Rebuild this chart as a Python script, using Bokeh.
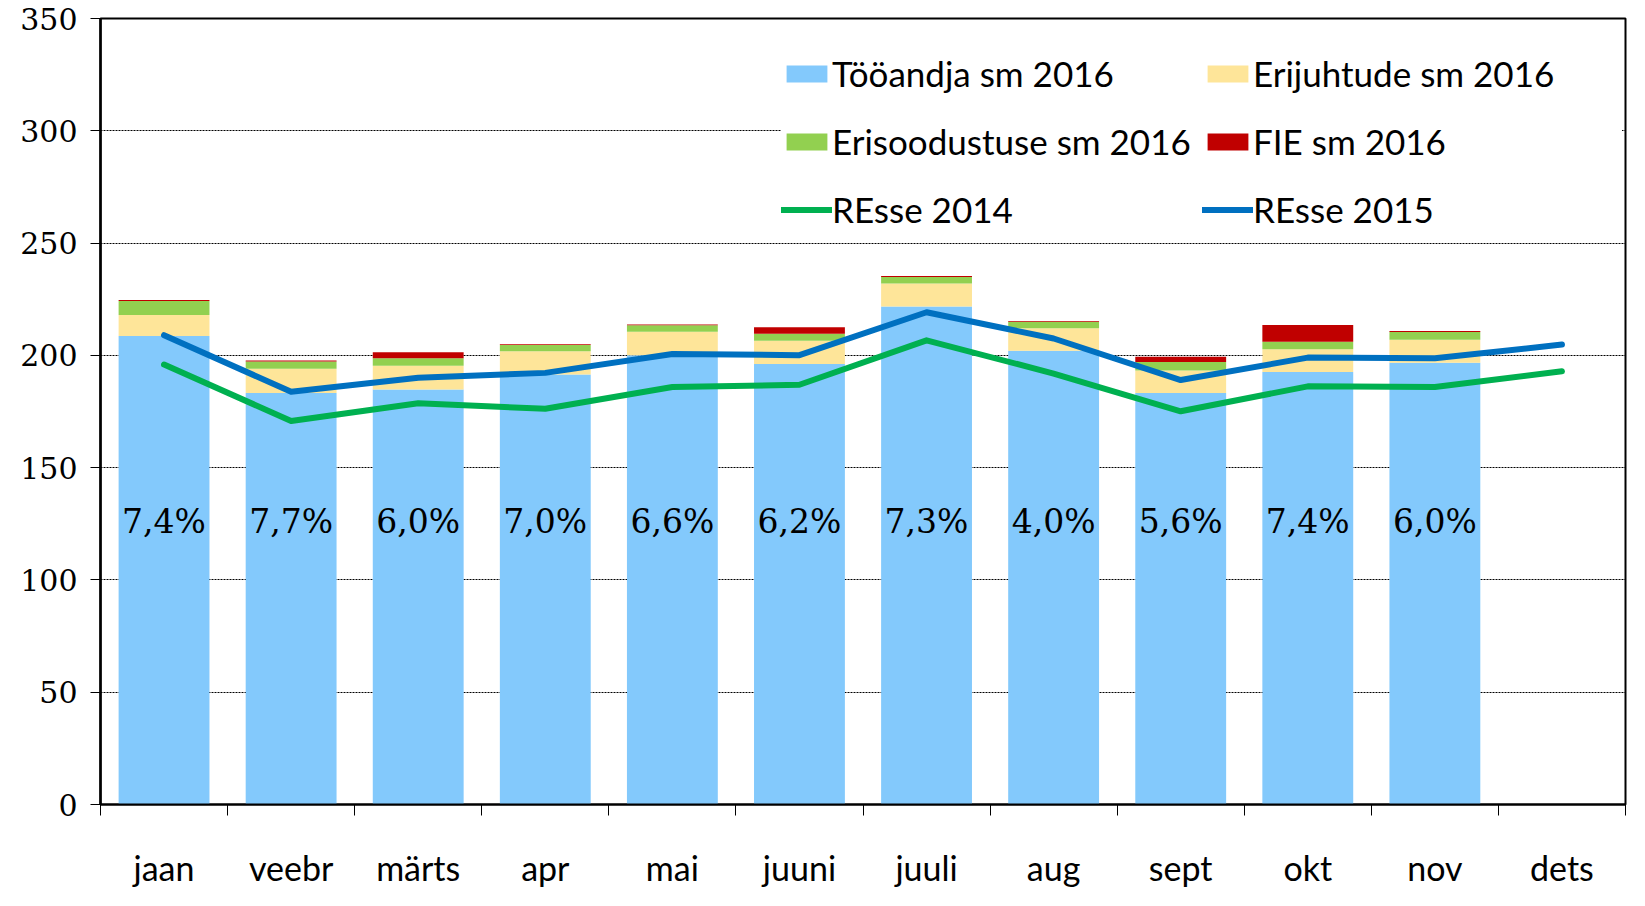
from bokeh.plotting import figure
from bokeh.models import (ColumnDataSource, Range1d, FixedTicker, CustomJSTickFormatter,
                          Legend, LegendItem)
from bokeh.core.properties import value
from bokeh.embed import file_html
from bokeh.resources import INLINE

months = ["jaan", "veebr", "märts", "apr", "mai", "juuni", "juuli", "aug",
          "sept", "okt", "nov", "dets"]
tooandja = [208.6, 183.2, 184.8, 191.5, 200.1, 196.2, 221.8, 202.1, 183.2, 192.6, 196.7, 0]
erijuhtude = [9.4, 10.8, 10.6, 10.3, 10.4, 10.3, 10.2, 10.0, 10.1, 10.1, 10.3, 0]
erisoodustuse = [6.2, 3.3, 3.3, 2.8, 2.9, 3.1, 2.9, 2.9, 3.7, 3.4, 3.4, 0]
fie = [0.4, 0.4, 2.7, 0.4, 0.3, 2.9, 0.4, 0.3, 2.4, 7.4, 0.4, 0]
resse2014 = [195.9, 170.8, 178.7, 176.2, 185.9, 186.9, 206.7, 191.9, 175.1, 186.2, 185.9, 192.9]
resse2015 = [209.0, 183.8, 190.0, 192.2, 200.6, 200.1, 219.2, 207.5, 189.0, 199.0, 198.7, 204.8]
pct_labels = ["7,4%", "7,7%", "6,0%", "7,0%", "6,6%", "6,2%", "7,3%", "4,0%", "5,6%",
              "7,4%", "6,0%"]
y_ticks = [0, 50, 100, 150, 200, 250, 300, 350]

centers = [i + 0.5 for i in range(len(months))]
boundaries = list(range(len(months) + 1))

source = ColumnDataSource(dict(x=centers, tooandja=tooandja, erijuhtude=erijuhtude,
                               erisoodustuse=erisoodustuse, fie=fie))

p = figure(width=1629, height=890, output_backend="svg", toolbar_location=None,
           x_range=Range1d(0, 12), y_range=Range1d(0, 350),
           min_border_left=100, min_border_right=4, min_border_top=18, min_border_bottom=62)
p.background_fill_color = "white"
p.border_fill_color = "white"
p.outline_line_color = "black"
p.outline_line_width = 2

bars = p.vbar_stack(["tooandja", "erijuhtude", "erisoodustuse", "fie"], x="x", width=0.715,
                    color=["#83C9FC", "#FEE599", "#92D050", "#C00000"], line_color=None,
                    source=source)

l14 = p.line(centers, resse2014, line_color="#00B050", line_width=6, line_cap="round",
             line_join="round")
l15 = p.line(centers, resse2015, line_color="#0070C0", line_width=6, line_cap="round",
             line_join="round")

p.text(x=centers[:len(pct_labels)], y=[126] * len(pct_labels), text=pct_labels,
       text_align="center", text_baseline="middle", text_font=value("DejaVu Serif"),
       text_font_size="33px", text_color="black")

# axes
p.xaxis.ticker = FixedTicker(ticks=centers, minor_ticks=boundaries)
p.xaxis.formatter = CustomJSTickFormatter(args=dict(labels=months),
                                          code="return labels[Math.floor(tick)];")
p.xaxis.major_tick_out = 0
p.xaxis.major_tick_in = 0
p.xaxis.minor_tick_out = 11
p.xaxis.minor_tick_in = 0
p.xaxis.minor_tick_line_color = "black"
p.xaxis.axis_line_color = "black"
p.xaxis.axis_line_width = 2
p.xaxis.major_label_standoff = 31
p.xaxis.major_label_text_font = "Lato"
p.xaxis.major_label_text_font_size = "34px"
p.xaxis.major_label_text_color = "black"

p.yaxis.ticker = FixedTicker(ticks=y_ticks)
p.yaxis.major_tick_out = 10
p.yaxis.major_tick_in = 0
p.yaxis.minor_tick_out = 0
p.yaxis.minor_tick_in = 0
p.yaxis.axis_line_width = 2.5
p.yaxis.axis_line_color = "black"
p.yaxis.major_label_standoff = 13
p.yaxis.major_label_text_font = "DejaVu Serif"
p.yaxis.major_label_text_font_size = "30px"
p.yaxis.major_label_text_color = "black"

p.xgrid.grid_line_color = None
p.ygrid.ticker = FixedTicker(ticks=y_ticks[1:-1])
p.ygrid.grid_line_color = "black"
p.ygrid.grid_line_dash = "2 1"
p.ygrid.grid_line_width = 1

def make_legend(items, x, label_width):
    lg = Legend(items=items, location=(x, 574), orientation="vertical",
                glyph_width=51, glyph_height=21, label_standoff=0, spacing=26,
                padding=5, label_width=label_width, label_text_font="Lato",
                label_text_font_size="35px", label_text_color="black",
                background_fill_color="white", background_fill_alpha=1.0,
                border_line_color=None)
    return lg

leg1 = make_legend([LegendItem(label="Tööandja sm 2016", renderers=[bars[0]]),
                    LegendItem(label="Erisoodustuse sm 2016", renderers=[bars[2]]),
                    LegendItem(label="REsse 2014", renderers=[l14])], 681, 375)
leg2 = make_legend([LegendItem(label="Erijuhtude sm 2016", renderers=[bars[1]]),
                    LegendItem(label="FIE sm 2016", renderers=[bars[3]]),
                    LegendItem(label="REsse 2015", renderers=[l15])], 1102, 369)
p.add_layout(leg1)
p.add_layout(leg2)

open("out.html", "w").write(file_html(p, INLINE))
